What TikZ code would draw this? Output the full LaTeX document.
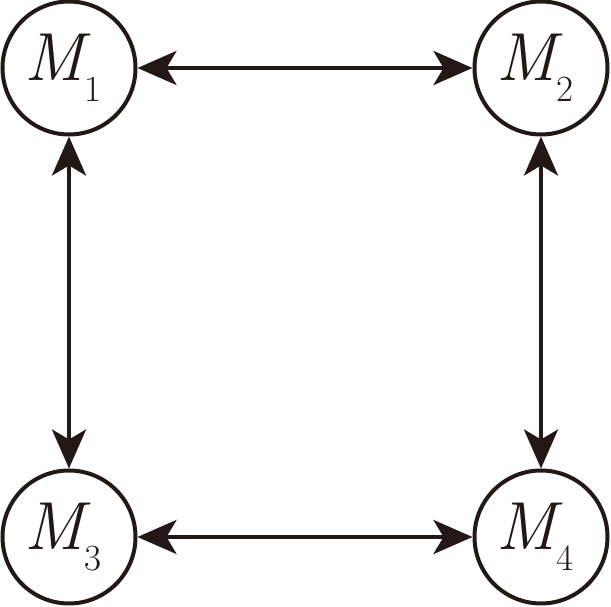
\documentclass[tikz,border=0pt]{standalone}
\usetikzlibrary{arrows.meta}
\definecolor{ink}{RGB}{35,24,21}
\begin{document}
\begin{tikzpicture}[x=1pt,y=1pt,
  mnode/.style={circle,draw=ink,line width=4pt,minimum size=133pt,inner sep=0pt},
  mtext/.style={text=ink,inner sep=0pt},
  link/.style={line width=4pt,draw=ink,{Stealth[length=39pt,width=34pt,inset=10pt]}-{Stealth[length=39pt,width=34pt,inset=10pt]}}]
\useasboundingbox (0,0) rectangle (611,607);
\newcommand{\mlab}[1]{\fontsize{68}{68}\selectfont\itshape M\raisebox{-21pt}{\upshape\fontsize{37}{37}\selectfont #1}}
\node[mnode] (m1) at (69,539) {};
\node[mnode] (m2) at (541,539) {};
\node[mnode] (m3) at (69,70) {};
\node[mnode] (m4) at (541,70) {};
\node[mtext] (t1) at (63,539) {\mlab{1}};
\node[mtext] (t2) at (535,539) {\mlab{2}};
\node[mtext] (t3) at (63,70) {\mlab{3}};
\node[mtext] (t4) at (535,70) {\mlab{4}};
\draw[link] (m1) -- (m2);
\draw[link] (m3) -- (m4);
\draw[link] (m1) -- (m3);
\draw[link] (m2) -- (m4);
\end{tikzpicture}
\end{document}
